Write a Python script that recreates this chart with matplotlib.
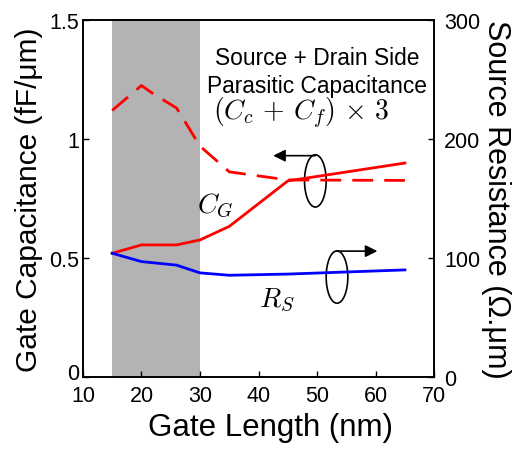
import matplotlib
matplotlib.use("Agg")
import matplotlib.pyplot as plt
import matplotlib.transforms as mtransforms
from matplotlib.patches import Ellipse

plt.rcParams['font.family'] = ['Liberation Sans', 'DejaVu Sans']
plt.rcParams['mathtext.fontset'] = 'cm'

# gate length sweep (nm)
lg_cg = [15, 20, 26, 30, 35, 45, 65]
cg = [0.52, 0.555, 0.555, 0.576, 0.633, 0.824, 0.899]

lg_par = [15, 20, 22, 26, 30, 35, 45, 65]
c_par = [1.12, 1.225, 1.19, 1.13, 0.97, 0.862, 0.828, 0.826]

lg_rs = [15, 20, 26, 30, 35, 45, 65]
rs = [104, 97, 94, 87.5, 85.5, 86.5, 90]

fig = plt.figure(figsize=(5.12, 4.52), dpi=100)
ax = fig.add_axes([0.162, 0.1637, 0.686, 0.7898])
ax2 = ax.twinx()

ax.axvspan(15, 30, color='#b3b3b3', lw=0, zorder=0)
ax.plot(lg_cg, cg, color='#ff0000', lw=2)
ax.plot(lg_par, c_par, color='#ff0000', lw=2, dashes=(7.5, 4))
ax2.plot(lg_rs, rs, color='#0000ff', lw=2)

ax.set_xlim(10, 70)
ax.set_ylim(0, 1.5)
ax2.set_ylim(0, 300)
ax.set_xticks([10, 20, 30, 40, 50, 60, 70])
ax.set_yticks([0, 0.5, 1, 1.5])
ax.set_yticklabels(['0', '0.5', '1', '1.5'])
ax2.set_yticks([0, 100, 200, 300])

for a in (ax, ax2):
    a.tick_params(direction='in', labelsize=15.5, length=4, width=1)
    for s in a.spines.values():
        s.set_linewidth(1.2)
ax.tick_params(axis='x', pad=6)
ax.tick_params(axis='y', pad=3)
ax2.tick_params(axis='y', pad=7)

# nudge the left "0" up a little so it clears the "10"
lbl0 = ax.get_yticklabels()[0]
lbl0.set_transform(lbl0.get_transform() +
                   mtransforms.ScaledTranslation(0, 4 / 72, fig.dpi_scale_trans))

ax.set_xlabel('Gate Length (nm)', fontsize=22.5, labelpad=4)
ax.xaxis.label.set_x(0.533)
ax.set_ylabel('Gate Capacitance (fF/\u03bcm)', fontsize=21.5, labelpad=4)
ax2.set_ylabel('Source Resistance (\u03a9.\u03bcm)', fontsize=22,
               rotation=270, labelpad=22)

ax.text(50.0, 1.315, 'Source + Drain Side', fontsize=16.4,
        ha='center', va='baseline')
ax.text(50.0, 1.197, 'Parasitic Capacitance', fontsize=16.4,
        ha='center', va='baseline')
ax.text(47.35, 1.084, r'$(C_c\,+\,C_f)\,\times\,3$', fontsize=20,
        ha='center', va='baseline')
ax.text(32.7, 0.693, r'$C_G$', fontsize=20, ha='center', va='baseline')
ax.text(43.2, 0.298, r'$R_S$', fontsize=20, ha='center', va='baseline')

# ellipse + arrow markers pointing to each axis
ax.add_patch(Ellipse((49.7, 0.824), 3.7, 0.22, fill=False, lw=1.2, color='k'))
ax.annotate('', xy=(42.5, 0.93), xytext=(49.7, 0.93),
            arrowprops=dict(arrowstyle='-|>', color='k', lw=1.2,
                            mutation_scale=18, shrinkA=0, shrinkB=0))
ax.add_patch(Ellipse((53.4, 0.42), 3.7, 0.22, fill=False, lw=1.2, color='k'))
ax.annotate('', xy=(60.3, 0.529), xytext=(53.4, 0.529),
            arrowprops=dict(arrowstyle='-|>', color='k', lw=1.2,
                            mutation_scale=18, shrinkA=0, shrinkB=0))

fig.savefig('out.png', dpi=100)
